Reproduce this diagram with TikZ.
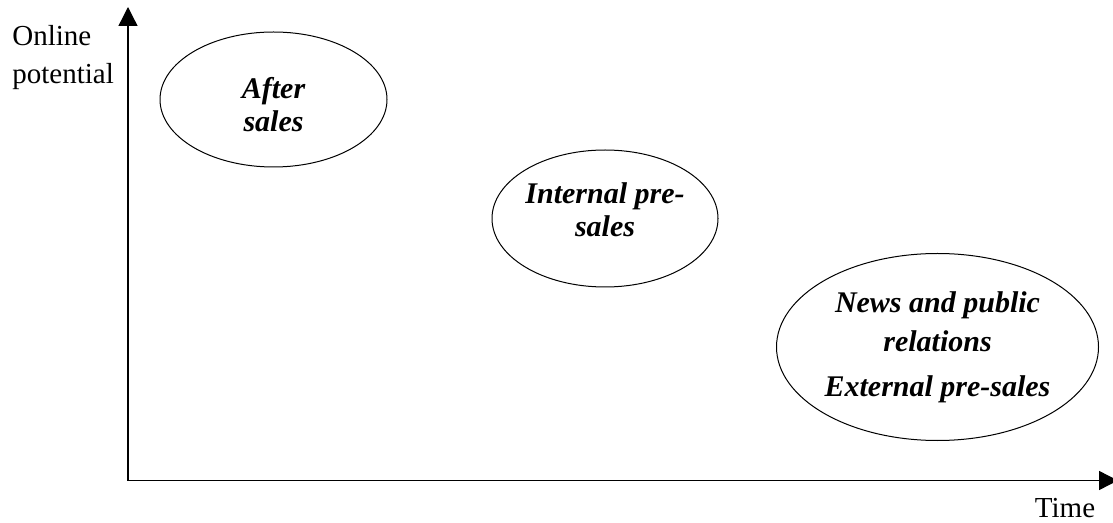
\documentclass[tikz,border=0pt]{standalone}
\usepackage{fontspec}
\setmainfont{Liberation Serif}
\usetikzlibrary{arrows.meta,shapes.geometric}
\tikzset{
  axis/.style={line width=0.65pt,{Triangle[length=9.5pt,width=9.5pt]}-{Triangle[length=9.5pt,width=9.5pt]}},
  oval/.style={draw,ellipse,line width=0.5pt,inner sep=0pt,align=center,text depth=2.5pt,font=\fontsize{15}{16.5}\selectfont\bfseries\itshape},
  axislabel/.style={inner sep=0pt,font=\fontsize{14.5}{19}\selectfont}
}
\begin{document}
\begin{tikzpicture}[x=0.5pt,y=-0.5pt]
			%%%%% START %%%%%
			\useasboundingbox (0,0) rectangle (1113,523);
			
			\coordinate (origin) at (128,480.5);
			\coordinate (ytip) at (128,7);
			\coordinate (xtip) at (1118,480.5);
			\draw[axis] (ytip) -- (origin) -- (xtip);
			
			\node[axislabel,align=left,anchor=north west] (ylabel) at (12,25) {Online\\potential};
			\node[axislabel,anchor=base] (xlabel) at (1065,517) {Time};
			
			\node[oval,minimum width=113.5pt,minimum height=67.5pt,text height=35pt] (after) at (273.5,99.5) {After\\sales};
			\node[oval,minimum width=113pt,minimum height=68.5pt,text height=21pt] (internal) at (605,218.5) {Internal pre-\\sales};
			\node[oval,minimum width=161pt,minimum height=93.5pt,text height=52.5pt,font=\fontsize{15}{20}\selectfont\bfseries\itshape] (news) at (937.5,347) {News and public\\relations\\[2.5pt]External pre-sales};
			%%%%% END %%%%%
\end{tikzpicture}
\end{document}
